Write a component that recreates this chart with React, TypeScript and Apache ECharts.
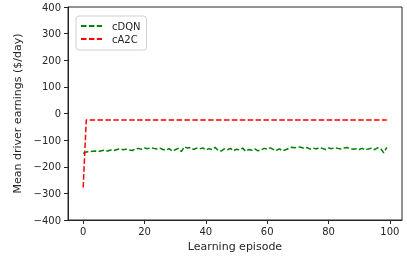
import React, { useEffect, useRef } from "react";
import * as echarts from "echarts";

const episodes: number[] = Array.from({ length: 100 }, (_, i) => i);
const cdqn: number[] = [
  -150, -145, -143, -142, -141, -143, -140, -138, -141, -137,
  -139, -135, -133, -136, -134, -137, -139, -133, -131, -134,
  -130, -132, -129, -131, -133, -130, -135, -138, -132, -141,
  -136, -131, -143, -125, -130, -128, -135, -130, -133, -129,
  -137, -132, -135, -127, -139, -141, -133, -136, -131, -140,
  -134, -137, -130, -142, -135, -138, -133, -140, -137, -131,
  -134, -129, -135, -138, -133, -140, -136, -131, -127, -129,
  -125, -127, -131, -128, -134, -130, -133, -128, -131, -135,
  -130, -132, -129, -131, -133, -130, -128, -131, -134, -132,
  -135, -131, -137, -133, -130, -136, -129, -132, -148, -127,
];
const ca2c: number[] = [-278, ...Array.from({ length: 99 }, () => -24)];
const xTicks = [0, 20, 40, 60, 80, 100];

const TXT = "#262626";
const FONT = "DejaVu Sans";

export default function App() {
  const ref = useRef<HTMLDivElement>(null);
  useEffect(() => {
    if (!ref.current) return;
    const chart = echarts.init(ref.current, undefined, { renderer: "svg" });
    const dash = [5.5, 2.4];
    chart.setOption({
      animation: false,
      textStyle: { fontFamily: FONT, color: TXT },
      grid: {
        left: 68, right: 5, top: 7, bottom: 39,
        show: true, borderColor: TXT, borderWidth: 1, backgroundColor: "transparent",
      },
      legend: {
        left: 76, top: 16, orient: "vertical",
        padding: [5, 6, 6, 4],
        itemGap: 3, itemWidth: 21, itemHeight: 10,
        borderColor: "#d0d0d0", borderWidth: 1, borderRadius: 3,
        backgroundColor: "rgba(255,255,255,0.8)",
        itemStyle: { opacity: 0 },
        textStyle: { fontFamily: FONT, fontSize: 10, color: TXT, padding: [0, 0, 0, 5] },
        data: ["cDQN", "cA2C"],
      },
      xAxis: {
        type: "value", min: -4.95, max: 103.95,
        name: "Learning episode", nameLocation: "middle", nameGap: 21,
        nameTextStyle: { fontFamily: FONT, fontSize: 11, color: TXT },
        axisLine: { show: true, onZero: false, lineStyle: { color: TXT, width: 1 } },
        axisTick: { show: true, length: 4, lineStyle: { color: TXT }, customValues: xTicks },
        axisLabel: { fontFamily: FONT, fontSize: 10, color: TXT, margin: 6, customValues: xTicks },
        splitLine: { show: false },
      },
      yAxis: {
        type: "value", min: -400, max: 400, interval: 100,
        name: "Mean driver earnings ($/day)", nameLocation: "middle", nameGap: 39,
        nameTextStyle: { fontFamily: FONT, fontSize: 11, color: TXT },
        axisLine: { show: true, onZero: false, lineStyle: { color: TXT, width: 1 } },
        axisTick: { show: true, length: 4, lineStyle: { color: TXT } },
        axisLabel: {
          fontFamily: FONT, fontSize: 10, color: TXT, margin: 7,
          formatter: (v: number) => (v < 0 ? "\u2212" + Math.abs(v) : String(v)),
        },
        splitLine: { show: false },
      },
      series: [
        {
          name: "cDQN", type: "line", symbol: "none",
          data: episodes.map((x, i) => [x, cdqn[i]]),
          lineStyle: { color: "#008000", width: 1.5, type: dash },
          itemStyle: { color: "#008000" },
        },
        {
          name: "cA2C", type: "line", symbol: "none",
          data: episodes.map((x, i) => [x, ca2c[i]]),
          lineStyle: { color: "#ff0000", width: 1.5, type: dash },
          itemStyle: { color: "#ff0000" },
        },
      ],
    });
    return () => chart.dispose();
  }, []);
  return <div ref={ref} style={{ width: 407, height: 259, position: "fixed", left: 0, top: 0 }} />;
}
